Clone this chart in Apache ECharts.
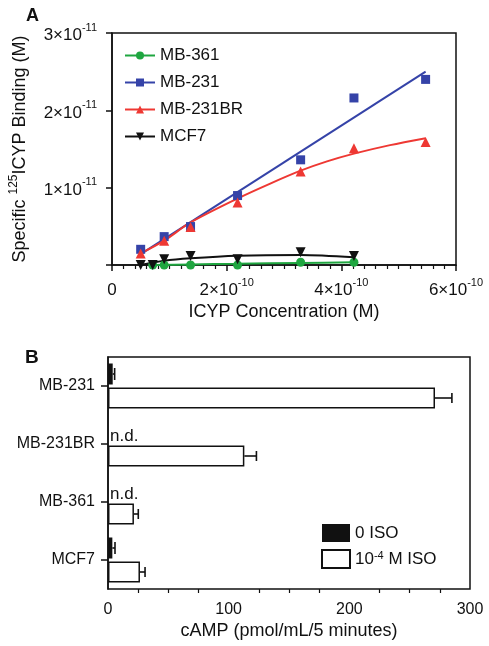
<!DOCTYPE html>
<html>
<head>
<meta charset="utf-8">
<script src="https://cdn.jsdelivr.net/npm/echarts@6/dist/echarts.min.js"></script>
<style>
html,body{margin:0;padding:0;background:#fff;}
#chart{width:489px;height:646px;}
</style>
</head>
<body>
<div id="chart"></div>
<script>
// ---------- Panel A data (x in units of 1e-10 M, y in units of 1e-11 M) ----------
const seriesNamesA = ['MB-361', 'MB-231', 'MB-231BR', 'MCF7'];
const xTicksA = [0, 2, 4, 6];
const yTicksA = [0, 1, 2, 3];

const concMB361 = [0.71, 0.91, 1.37, 2.19, 3.29, 4.22];
const bindMB361 = [0.0, 0.0, 0.0, 0.0, 0.035, 0.035];
const concMB231 = [0.5, 0.91, 1.37, 2.19, 3.29, 4.22, 5.47];
const bindMB231 = [0.203, 0.367, 0.497, 0.898, 1.36, 2.16, 2.40];
const concMB231BR = [0.5, 0.91, 1.37, 2.19, 3.29, 4.22, 5.47];
const bindMB231BR = [0.15, 0.315, 0.49, 0.807, 1.21, 1.51, 1.59];
const concMCF7 = [0.5, 0.71, 0.91, 1.37, 2.19, 3.29, 4.22];
const bindMCF7 = [0.0, 0.0, 0.074, 0.117, 0.074, 0.164, 0.117];

// fitted curves
const fitXMB361 = [0.71, 1.37, 2.19, 3.29, 4.22];
const fitYMB361 = [0.0, 0.008, 0.016, 0.027, 0.035];
const fitXMB231 = [0.5, 5.47];
const fitYMB231 = [0.14, 2.50];
const fitXMB231BR = [0.5, 0.91, 1.37, 2.19, 2.75, 3.29, 3.75, 4.22, 4.85, 5.47];
const fitYMB231BR = [0.15, 0.315, 0.55, 0.86, 1.05, 1.22, 1.34, 1.44, 1.55, 1.64];
const fitXMCF7 = [0.5, 0.91, 1.37, 2.19, 3.29, 4.22];
const fitYMCF7 = [0.0, 0.055, 0.087, 0.12, 0.13, 0.10];

// ---------- Panel B data ----------
const cellLines = ['MB-231', 'MB-231BR', 'MB-361', 'MCF7'];
const camp0 = [3.9, 0, 0, 3.6];
const camp0Err = [1.6, 0, 0, 2.2];
const notDetected = [false, true, true, false];
const campIso = [271, 113, 21.5, 26.5];
const campIsoErr = [14, 10, 3.6, 4.2];
const xTicksB = [0, 100, 200, 300];

// ---------- styling ----------
const FONT = '"Liberation Sans", Arial, Helvetica, sans-serif';
const colors = { 'MB-361': '#1fa640', 'MB-231': '#3543a8', 'MB-231BR': '#ee3833', 'MCF7': '#111111' };
const symbols = { 'MB-361': 'circle', 'MB-231': 'rect', 'MB-231BR': 'triangle', 'MCF7': 'path://M0,0 L10,0 L5,9 Z' };
const symSize = { 'MB-361': 9, 'MB-231': 9, 'MB-231BR': 10, 'MCF7': 10 };

const pts = { 'MB-361': [concMB361, bindMB361], 'MB-231': [concMB231, bindMB231], 'MB-231BR': [concMB231BR, bindMB231BR], 'MCF7': [concMCF7, bindMCF7] };
const fits = { 'MB-361': [fitXMB361, fitYMB361], 'MB-231': [fitXMB231, fitYMB231], 'MB-231BR': [fitXMB231BR, fitYMB231BR], 'MCF7': [fitXMCF7, fitYMCF7] };
const zip = (a, b) => a.map((v, i) => [v, b[i]]);

const BAR_W = 21, BAR_GAP_PX = 3;
const BAR_OFF = (BAR_W + BAR_GAP_PX) / 2;

const series = [];
seriesNamesA.forEach(n => {
  series.push({
    name: n, type: 'line', xAxisIndex: 0, yAxisIndex: 0,
    data: zip(fits[n][0], fits[n][1]), smooth: n === 'MB-231' ? false : 0.3,
    symbol: symbols[n], symbolSize: symSize[n], showSymbol: false,
    lineStyle: { color: colors[n], width: 2 }, itemStyle: { color: colors[n] },
    silent: true, z: 2
  });
});
seriesNamesA.forEach(n => {
  series.push({
    name: n, type: 'scatter', xAxisIndex: 0, yAxisIndex: 0,
    data: zip(pts[n][0], pts[n][1]), symbol: symbols[n], symbolSize: symSize[n],
    itemStyle: { color: colors[n], opacity: 1 }, z: 3
  });
});

series.push({
  name: '0 ISO', type: 'bar', xAxisIndex: 1, yAxisIndex: 1,
  barWidth: BAR_W, barGap: (BAR_GAP_PX / BAR_W * 100) + '%',
  itemStyle: { color: '#111' },
  data: camp0.map((v, i) => notDetected[i]
    ? { value: v, label: { show: true, formatter: 'n.d.', position: 'right', distance: 2, offset: [0, 4], fontSize: 17, fontFamily: FONT, color: '#111' } }
    : v)
});
series.push({
  name: 'iso', type: 'bar', xAxisIndex: 1, yAxisIndex: 1,
  barWidth: BAR_W,
  itemStyle: { color: '#fff', borderColor: '#111', borderWidth: 1.5 },
  data: campIso
});
const errRows = [];
camp0.forEach((v, i) => { if (!notDetected[i]) errRows.push([i, v, camp0Err[i], -1]); });
campIso.forEach((v, i) => errRows.push([i, v, campIsoErr[i], 1]));
series.push({
  type: 'custom', xAxisIndex: 1, yAxisIndex: 1, silent: true, z: 5,
  encode: { x: 1, y: 0 },
  data: errRows,
  renderItem: function (params, api) {
    const cat = api.value(0), v = api.value(1), e = api.value(2), s = api.value(3);
    const p0 = api.coord([v, cat]);
    const p1 = api.coord([v + e, cat]);
    const y = p0[1] + s * BAR_OFF;
    const cap = s < 0 ? 6 : 5;
    const st = { stroke: '#111', lineWidth: 1.6 };
    return { type: 'group', children: [
      { type: 'line', shape: { x1: p0[0], y1: y, x2: p1[0], y2: y }, style: st },
      { type: 'line', shape: { x1: p1[0], y1: y - cap, x2: p1[0], y2: y + cap }, style: st }
    ] };
  }
});

const supRich = {
  m: { fontSize: 17, fontFamily: FONT, color: '#111', lineHeight: 22, verticalAlign: 'bottom' },
  s: { fontSize: 11, fontFamily: FONT, color: '#111', lineHeight: 22, verticalAlign: 'top' }
};

const option = {
  animation: false,
  backgroundColor: '#fff',
  textStyle: { fontFamily: FONT },
  title: [
    { text: 'A', left: 21, top: 2, textStyle: { fontSize: 18, fontWeight: 'bold', color: '#111', fontFamily: FONT } },
    { text: 'B', left: 20, top: 343, textStyle: { fontSize: 19, fontWeight: 'bold', color: '#111', fontFamily: FONT } }
  ],
  legend: [
    {
      data: seriesNamesA, orient: 'vertical', left: 119, top: 42,
      itemWidth: 30, itemHeight: 10, itemGap: 10,
      textStyle: { fontSize: 17, color: '#111', fontFamily: FONT },
      selectedMode: false
    },
    {
      data: ['0 ISO', 'iso'], orient: 'vertical', left: 316, top: 519,
      itemWidth: 28, itemHeight: 18, itemGap: 7, icon: 'rect',
      formatter: n => n === 'iso' ? '10{s|-4} M ISO' : n,
      textStyle: { fontSize: 17, color: '#111', fontFamily: FONT,
        rich: { s: { fontSize: 11, fontFamily: FONT, color: '#111', verticalAlign: 'top', lineHeight: 18 } } },
      selectedMode: false
    }
  ],
  grid: [
    { left: 108, top: 33, width: 348, height: 232, show: true, borderColor: '#111', borderWidth: 1.5, backgroundColor: 'transparent' },
    { left: 108, top: 357, width: 362, height: 232, show: true, borderColor: '#111', borderWidth: 1.5, backgroundColor: 'transparent' }
  ],
  xAxis: [
    {
      gridIndex: 0, type: 'value', min: xTicksA[0], max: xTicksA[xTicksA.length - 1], interval: 2,
      axisLine: { onZero: false, lineStyle: { color: '#111', width: 1.5 } },
      axisTick: { length: 6, lineStyle: { color: '#111', width: 1.5 } },
      minorTick: { show: true, splitNumber: 10, length: 4, lineStyle: { color: '#111', width: 1.2 } },
      splitLine: { show: false },
      axisLabel: { margin: 12, formatter: v => v === 0 ? '{m|0}' : '{m|' + v + '×10}{s|-10}', rich: supRich },
      name: 'ICYP Concentration (M)', nameLocation: 'middle', nameGap: 38,
      nameTextStyle: { fontSize: 18, color: '#111', fontFamily: FONT }
    },
    {
      gridIndex: 1, type: 'value', min: xTicksB[0], max: xTicksB[xTicksB.length - 1], interval: 100,
      axisLine: { onZero: false, lineStyle: { color: '#111', width: 1.5 } },
      axisTick: { length: 6, lineStyle: { color: '#111', width: 1.5 } },
      minorTick: { show: true, splitNumber: 4, length: 4, lineStyle: { color: '#111', width: 1.2 } },
      splitLine: { show: false },
      axisLabel: { margin: 13, fontSize: 16, color: '#111', fontFamily: FONT },
      name: 'cAMP (pmol/mL/5 minutes)', nameLocation: 'middle', nameGap: 33,
      nameTextStyle: { fontSize: 18, color: '#111', fontFamily: FONT }
    }
  ],
  yAxis: [
    {
      gridIndex: 0, type: 'value', min: yTicksA[0], max: yTicksA[yTicksA.length - 1], interval: 1,
      axisLine: { show: true, onZero: false, lineStyle: { color: '#111', width: 1.5 } },
      axisTick: { show: true, length: 6, lineStyle: { color: '#111', width: 1.5 } },
      splitLine: { show: false },
      axisLabel: { margin: 15, formatter: v => v === 0 ? '' : '{m|' + v + '×10}{s|-11}', rich: supRich },
      name: 'Specific {s|125}ICYP Binding (M)', nameLocation: 'middle', nameGap: 80, nameRotate: 90,
      nameTextStyle: { fontSize: 18, color: '#111', fontFamily: FONT, lineHeight: 24,
        rich: { s: { fontSize: 12, fontFamily: FONT, color: '#111', verticalAlign: 'top', lineHeight: 24 } } }
    },
    {
      gridIndex: 1, type: 'category', data: cellLines, inverse: true,
      axisLine: { show: true, onZero: false, lineStyle: { color: '#111', width: 1.5 } },
      axisTick: { show: true, alignWithLabel: true, length: 7, lineStyle: { color: '#111', width: 1.5 } },
      splitLine: { show: false },
      axisLabel: { margin: 13, fontSize: 16, color: '#111', fontFamily: FONT }
    }
  ],
  series: series
};

const chart = echarts.init(document.getElementById('chart'), null, { renderer: 'canvas' });
chart.setOption(option);
</script>
</body>
</html>
